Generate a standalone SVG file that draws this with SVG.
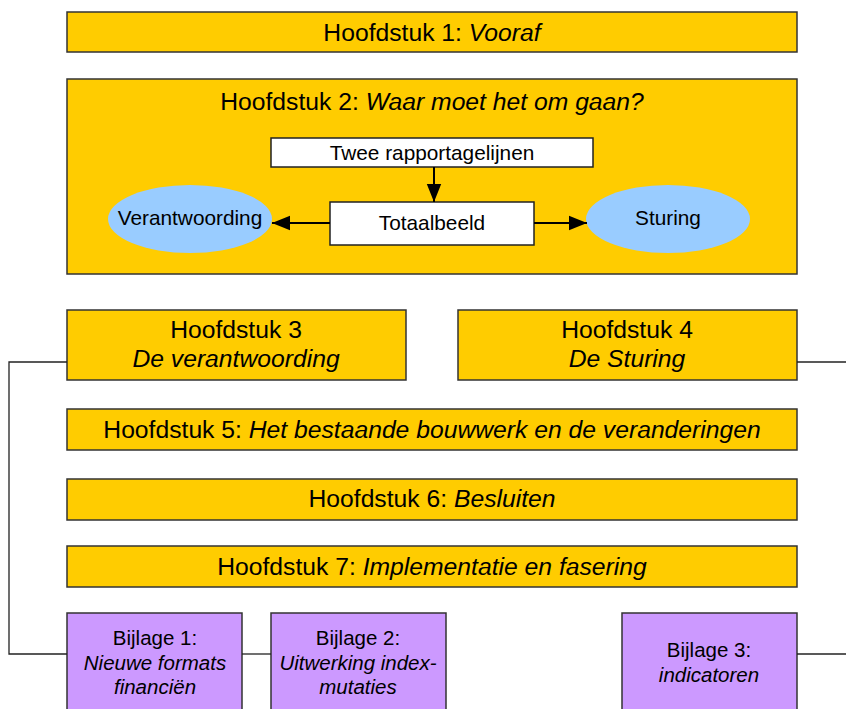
<svg xmlns="http://www.w3.org/2000/svg" width="846" height="709" viewBox="0 0 846 709">
<defs>
<style>
.box{fill:#FFCC00;stroke:#333;stroke-width:1.5}
.wbox{fill:#fff;stroke:#222;stroke-width:1.5}
.pbox{fill:#CC99FF;stroke:#333;stroke-width:1.5}
.ell{fill:#99CCFF;stroke:none}
text{font-family:"Liberation Sans",Arial,sans-serif;fill:#000;text-anchor:middle}
.t{font-size:24.7px}
.s{font-size:20.8px}
.b{font-size:20.5px}
.i{font-style:italic}
.con{fill:none;stroke:#222;stroke-width:1.3}
.arr{fill:none;stroke:#000;stroke-width:2}
</style>
<marker id="ah" viewBox="0 0 10 10" refX="10" refY="5" markerWidth="9" markerHeight="9" markerUnits="strokeWidth" orient="auto"><path d="M0,1 L10,5 L0,9 z" fill="#000"/></marker>
</defs>
<rect width="846" height="709" fill="#fff"/>
<g id="h1"><rect class="box" x="67" y="12" width="730" height="40"/><text class="t" x="432" y="41">Hoofdstuk 1: <tspan class="i">Vooraf</tspan></text></g>
<g id="h2"><rect class="box" x="67" y="79" width="730" height="195"/><text class="t" x="432" y="110">Hoofdstuk 2: <tspan class="i">Waar moet het om gaan?</tspan></text></g>
<g id="twee"><rect class="wbox" x="271" y="138" width="322" height="29"/><text class="s" x="432" y="160">Twee rapportagelijnen</text></g>
<g id="totaal"><rect class="wbox" x="330" y="202" width="204" height="43"/><text class="s" x="432" y="230">Totaalbeeld</text></g>
<g id="verantw"><ellipse class="ell" cx="190" cy="219" rx="82" ry="34"/><text class="s" x="190" y="225">Verantwoording</text></g>
<g id="sturing"><ellipse class="ell" cx="668" cy="219" rx="82" ry="34"/><text class="s" x="668" y="225">Sturing</text></g>
<g id="h3"><rect class="box" x="67" y="310" width="339" height="70"/><text class="t" x="236" y="338">Hoofdstuk 3</text><text class="t i" x="236" y="367">De verantwoording</text></g>
<g id="h4"><rect class="box" x="458" y="310" width="339" height="70"/><text class="t" x="627" y="338">Hoofdstuk 4</text><text class="t i" x="627" y="367">De Sturing</text></g>
<g id="h5"><rect class="box" x="67" y="409" width="730" height="41"/><text class="t" x="432" y="438">Hoofdstuk 5: <tspan class="i">Het bestaande bouwwerk en de veranderingen</tspan></text></g>
<g id="h6"><rect class="box" x="67" y="479" width="730" height="41"/><text class="t" x="432" y="507">Hoofdstuk 6: <tspan class="i">Besluiten</tspan></text></g>
<g id="h7"><rect class="box" x="67" y="546" width="730" height="41"/><text class="t" x="432" y="575">Hoofdstuk 7: <tspan class="i">Implementatie en fasering</tspan></text></g>
<g id="b1"><rect class="pbox" x="67" y="613" width="175" height="110"/><text class="b" x="155" y="645">Bijlage 1:</text><text class="b i" x="155" y="670">Nieuwe formats</text><text class="b i" x="155" y="694">financiën</text></g>
<g id="b2"><rect class="pbox" x="271" y="613" width="175" height="110"/><text class="b" x="358" y="645">Bijlage 2:</text><text class="b i" x="358" y="670">Uitwerking index-</text><text class="b i" x="358" y="694">mutaties</text></g>
<g id="b3"><rect class="pbox" x="622" y="613" width="175" height="110"/><text class="b" x="709" y="657">Bijlage 3:</text><text class="b i" x="709" y="682">indicatoren</text></g>
<g id="connectors">
<path class="arr" d="M434,167 L434,202" marker-end="url(#ah)"/>
<path class="arr" d="M330,223 L272,223" marker-end="url(#ah)"/>
<path class="arr" d="M534,223 L587,223" marker-end="url(#ah)"/>
<path class="con" d="M67,362 H9 V654 H67"/>
<path class="con" d="M242,654 H271"/>
<path class="con" d="M797,362 H846"/>
<path class="con" d="M797,654 H846"/>
</g>
</svg>
